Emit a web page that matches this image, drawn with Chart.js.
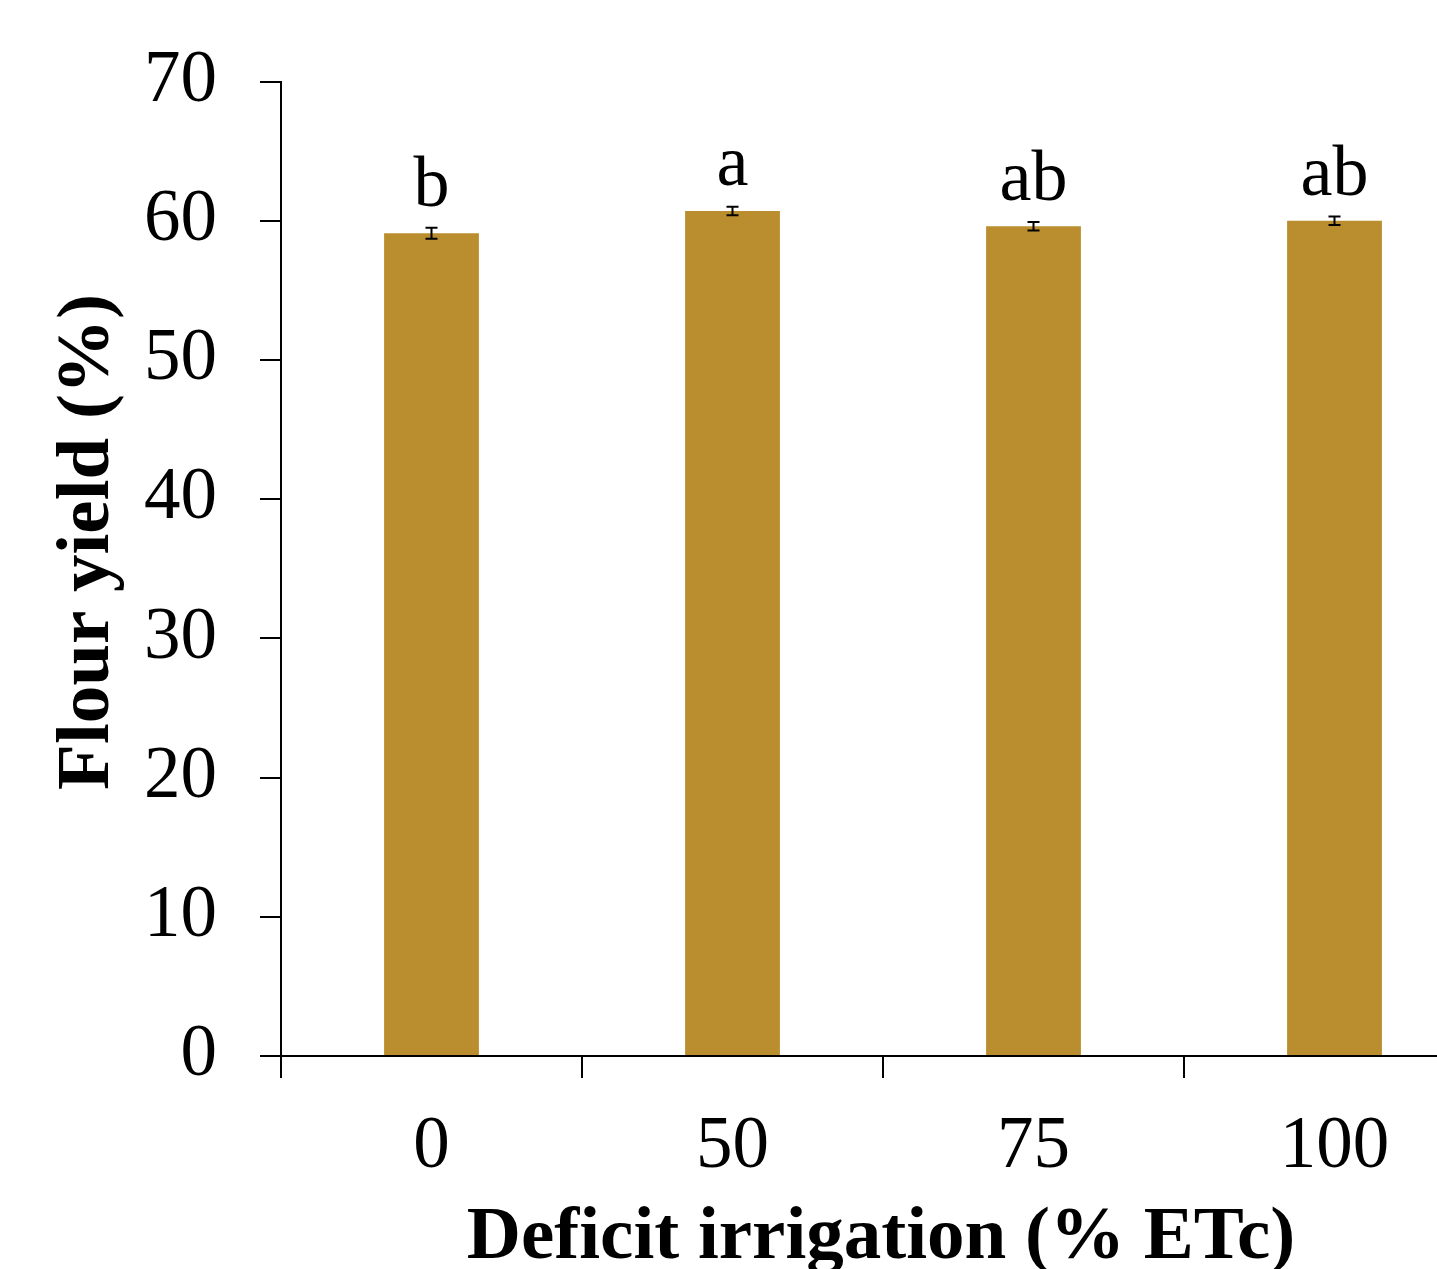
<!DOCTYPE html>
<html>
<head>
<meta charset="utf-8">
<script src="https://cdn.jsdelivr.net/npm/chart.js@4.4.1/dist/chart.umd.min.js"></script>
<style>
  html, body { margin: 0; padding: 0; background: #fff; overflow: hidden; }
  #wrap { position: relative; width: 1485px; height: 1269px; }
</style>
</head>
<body>
<div id="wrap"><canvas id="chart"></canvas></div>
<script>
// Flour yield by deficit irrigation level
const categories = ['0', '50', '75', '100'];
const flourYield = [59.1, 60.7, 59.6, 60.0];
const yieldError = [0.4, 0.3, 0.3, 0.3];
const letters = ['b', 'a', 'ab', 'ab'];
const yTicks = [0, 10, 20, 30, 40, 50, 60, 70];
const xTitle = 'Deficit irrigation (% ETc)';
const yTitle = 'Flour yield (%)';

const serif = '"Liberation Serif", "Times New Roman", serif';
const barColor = '#BA8E2F';

// error bars, significance letters and the two axis titles
const annotatePlugin = {
    id: 'annotate',
    afterDatasetsDraw(chart) {
        const ctx = chart.ctx;
        const yScale = chart.scales.y;
        const meta = chart.getDatasetMeta(0);
        ctx.save();
        meta.data.forEach((bar, i) => {
            const x = bar.x;
            const top = yScale.getPixelForValue(flourYield[i] + yieldError[i]);
            const bottom = yScale.getPixelForValue(flourYield[i] - yieldError[i]);
            ctx.strokeStyle = '#000';
            ctx.lineWidth = 2;
            ctx.beginPath();
            ctx.moveTo(x, top);
            ctx.lineTo(x, bottom);
            ctx.moveTo(x - 6, top);
            ctx.lineTo(x + 6, top);
            ctx.moveTo(x - 6, bottom);
            ctx.lineTo(x + 6, bottom);
            ctx.stroke();

            ctx.fillStyle = '#000';
            ctx.font = '72px ' + serif;
            ctx.textAlign = 'center';
            ctx.textBaseline = 'alphabetic';
            ctx.fillText(letters[i], x, top - 22);
        });
        ctx.restore();
    },
    afterDraw(chart) {
        const ctx = chart.ctx;
        ctx.save();
        ctx.fillStyle = '#000';
        ctx.font = 'bold 75px ' + serif;
        ctx.textAlign = 'center';
        ctx.textBaseline = 'alphabetic';
        ctx.fillText(xTitle, 881, 1258);

        ctx.translate(108, 542);
        ctx.rotate(-Math.PI / 2);
        ctx.fillText(yTitle, 0, 0);
        ctx.restore();
    }
};

new Chart(document.getElementById('chart'), {
    type: 'bar',
    data: {
        labels: categories,
        datasets: [{
            data: flourYield,
            backgroundColor: barColor,
            borderWidth: 0,
            barPercentage: 0.315,
            categoryPercentage: 1.0
        }]
    },
    options: {
        responsive: true,
        maintainAspectRatio: false,
        animation: false,
        layout: { padding: 0 },
        plugins: {
            legend: { display: false },
            tooltip: { enabled: false }
        },
        scales: {
            x: {
                grid: {
                    offset: true,
                    drawOnChartArea: false,
                    drawTicks: true,
                    tickLength: 22,
                    color: '#000',
                    lineWidth: 2
                },
                border: { color: '#000', width: 2 },
                ticks: {
                    color: '#000',
                    font: { family: serif, size: 73 },
                    padding: 26
                },
                afterFit(scale) { scale.height = 213; }
            },
            y: {
                min: 0,
                max: 70,
                afterBuildTicks(scale) {
                    scale.ticks = yTicks.map(v => ({ value: v }));
                },
                grid: {
                    drawOnChartArea: false,
                    drawTicks: true,
                    tickLength: 21,
                    color: '#000',
                    lineWidth: 2
                },
                border: { color: '#000', width: 2 },
                ticks: {
                    color: '#000',
                    font: { family: serif, size: 73, lineHeight: 77 / 73 },
                    padding: 43
                },
                afterFit(scale) { scale.width = 281; }
            }
        }
    },
    plugins: [annotatePlugin]
});
</script>
</body>
</html>
